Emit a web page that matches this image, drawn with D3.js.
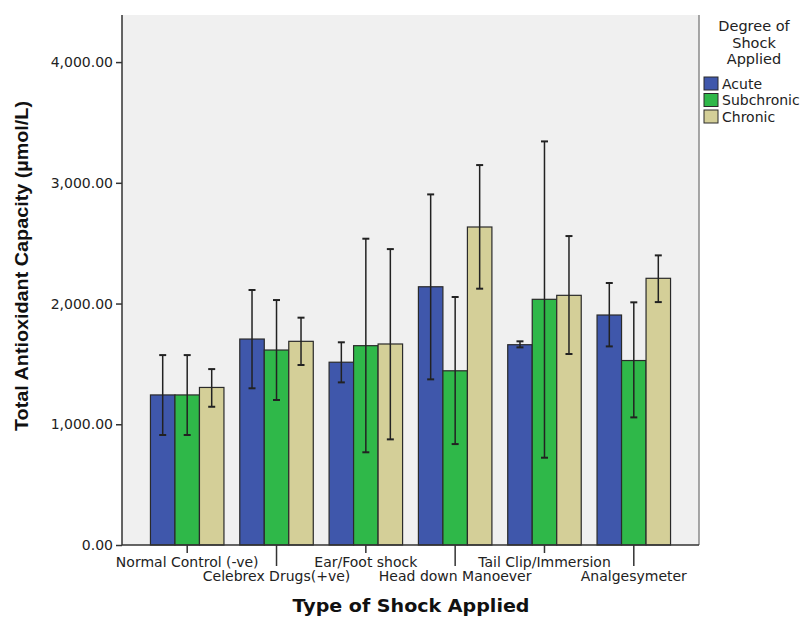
<!DOCTYPE html>
<html>
<head>
<meta charset="utf-8">
<script src="https://cdn.jsdelivr.net/npm/d3@7"></script>
<style>
  body { margin: 0; background: #fff; }
  text { font-family: "DejaVu Sans", Verdana, sans-serif; }
</style>
</head>
<body>
<script>
var width = 807,
    height = 617;

// data
var groups = ["Normal Control (-ve)", "Celebrex Drugs(+ve)", "Ear/Foot shock",
              "Head down Manoever", "Tail Clip/Immersion", "Analgesymeter"];
var degrees = ["Acute", "Subchronic", "Chronic"];
var colors = ["#3f57ab", "#2fb849", "#d4cf98"];

var acute      = [1243, 1706, 1514, 2139, 1659, 1905];
var subchronic = [1243, 1615, 1651, 1443, 2035, 1528];
var chronic    = [1305, 1687, 1665, 2634, 2068, 2209];

var acuteHi      = [1573, 2112, 1679, 2904, 1687, 2170];
var acuteLo      = [911, 1298, 1347, 1372, 1637, 1645];
var subchronicHi = [1573, 2029, 2537, 2054, 3343, 2010];
var subchronicLo = [911, 1201, 768, 836, 723, 1057];
var chronicHi    = [1457, 1883, 2451, 3147, 2559, 2399];
var chronicLo    = [1145, 1491, 875, 2123, 1582, 2012];

var yTicks = [0, 1000, 2000, 3000, 4000];
var legendTitle = ["Degree of", "Shock", "Applied"];

var series = [
  {name: "Acute", values: acute, hi: acuteHi, lo: acuteLo},
  {name: "Subchronic", values: subchronic, hi: subchronicHi, lo: subchronicLo},
  {name: "Chronic", values: chronic, hi: chronicHi, lo: chronicLo}
];

var plot = {left: 122, right: 699, top: 15, bottom: 545};

var svg = d3.select("body").append("svg")
    .attr("width", width)
    .attr("height", height);

var x = d3.scalePoint()
    .domain(groups)
    .range([plot.left, plot.right])
    .padding(0.73);

var barW = 24.5;
var inner = d3.scaleBand()
    .domain(degrees)
    .range([-barW * 1.5, barW * 1.5]);

var y = d3.scaleLinear()
    .domain([0, 4390])
    .range([plot.bottom, plot.top]);

var color = d3.scaleOrdinal().domain(degrees).range(colors);

// plot background
svg.append("rect")
    .attr("x", plot.left)
    .attr("y", plot.top)
    .attr("width", plot.right - plot.left)
    .attr("height", plot.bottom - plot.top)
    .attr("fill", "#f0f0f0");

// right border
svg.append("line")
    .attr("x1", plot.right).attr("x2", plot.right)
    .attr("y1", plot.top).attr("y2", plot.bottom)
    .attr("stroke", "#8a8a8a")
    .attr("stroke-width", 1.5);

// bars
var g = svg.selectAll("g.series")
    .data(series)
  .enter().append("g")
    .attr("class", "series");

g.selectAll("rect")
    .data(function(s) { return s.values.map(function(v, i) { return {s: s, i: i, v: v}; }); })
  .enter().append("rect")
    .attr("x", function(d) { return x(groups[d.i]) + inner(d.s.name); })
    .attr("y", function(d) { return y(d.v); })
    .attr("width", inner.bandwidth())
    .attr("height", function(d) { return y(0) - y(d.v); })
    .attr("fill", function(d) { return color(d.s.name); })
    .attr("stroke", "#2a2a2a")
    .attr("stroke-width", 1.2);

// error bars
var err = svg.append("g").attr("class", "errors");
series.forEach(function(s) {
  s.values.forEach(function(v, i) {
    var cx = x(groups[i]) + inner(s.name) + inner.bandwidth() / 2;
    err.append("line")
        .attr("x1", cx).attr("x2", cx)
        .attr("y1", y(s.hi[i])).attr("y2", y(s.lo[i]))
        .attr("stroke", "#222").attr("stroke-width", 1.5);
    [s.hi[i], s.lo[i]].forEach(function(e) {
      err.append("line")
          .attr("x1", cx - 3.5).attr("x2", cx + 3.5)
          .attr("y1", y(e)).attr("y2", y(e))
          .attr("stroke", "#222").attr("stroke-width", 2);
    });
  });
});

// y axis
var yAxis = svg.append("g")
    .attr("transform", "translate(" + plot.left + ",0)")
    .call(d3.axisLeft(y).tickValues(yTicks).tickSize(6).tickPadding(3)
      .tickFormat(function(d) { return d3.format(",.2f")(d); }));
yAxis.select(".domain").attr("stroke", "#333").attr("stroke-width", 1.5)
    .attr("d", "M0," + plot.top + "V" + plot.bottom);
yAxis.selectAll(".tick line").attr("stroke", "#333").attr("stroke-width", 1.5);
yAxis.selectAll(".tick text")
    .attr("font-size", 14)
    .attr("fill", "#222")
    .style("font-family", "'DejaVu Sans', Verdana, sans-serif");

// x axis
svg.append("line")
    .attr("x1", plot.left).attr("x2", plot.right)
    .attr("y1", plot.bottom).attr("y2", plot.bottom)
    .attr("stroke", "#333").attr("stroke-width", 1.5);

var xt = svg.append("g").selectAll("g")
    .data(groups)
  .enter().append("g")
    .attr("transform", function(d) { return "translate(" + x(d) + "," + plot.bottom + ")"; });
xt.append("line")
    .attr("y2", function(d, i) { return i % 2 ? 21 : 8; })
    .attr("stroke", "#333").attr("stroke-width", 1.5);
xt.append("text")
    .attr("y", function(d, i) { return i % 2 ? 36 : 22; })
    .attr("text-anchor", "middle")
    .attr("font-size", 14)
    .attr("fill", "#222")
    .text(function(d) { return d; });

// axis titles
svg.append("text")
    .attr("x", 411)
    .attr("y", 612)
    .attr("text-anchor", "middle")
    .attr("font-size", 17)
    .attr("font-weight", "bold")
    .attr("textLength", 237)
    .attr("lengthAdjust", "spacingAndGlyphs")
    .attr("fill", "#111")
    .text("Type of Shock Applied");

svg.append("text")
    .attr("transform", "translate(28,266) rotate(-90)")
    .attr("text-anchor", "middle")
    .attr("font-size", 19)
    .attr("font-weight", "bold")
    .attr("textLength", 330)
    .attr("lengthAdjust", "spacingAndGlyphs")
    .attr("fill", "#111")
    .style("font-family", "'Liberation Sans Narrow', 'Liberation Sans', Arial, sans-serif")
    .text("Total Antioxidant Capacity (µmol/L)");

// legend
var legend = svg.append("g");
legend.selectAll("text.title")
    .data(legendTitle)
  .enter().append("text")
    .attr("class", "title")
    .attr("x", 754)
    .attr("y", function(d, i) { return 31 + i * 16.5; })
    .attr("text-anchor", "middle")
    .attr("font-size", 14.5)
    .attr("fill", "#222")
    .text(function(d) { return d; });

var li = legend.selectAll("g.item")
    .data(degrees)
  .enter().append("g")
    .attr("class", "item")
    .attr("transform", function(d, i) { return "translate(704," + (77 + i * 16.5) + ")"; });
li.append("rect")
    .attr("width", 14).attr("height", 13)
    .attr("fill", function(d) { return color(d); })
    .attr("stroke", "#2a2a2a").attr("stroke-width", 1);
li.append("text")
    .attr("x", 18)
    .attr("y", 11.5)
    .attr("font-size", 14)
    .attr("fill", "#222")
    .text(function(d) { return d; });
</script>
</body>
</html>
